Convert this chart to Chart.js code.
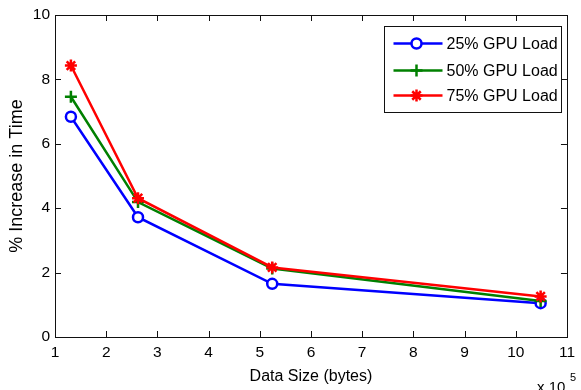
<!DOCTYPE html>
<html>
<head>
<meta charset="utf-8">
<title>% Increase in Time vs Data Size</title>
<script src="https://cdn.jsdelivr.net/npm/chart.js@4.4.0/dist/chart.umd.min.js"></script>
<style>
  html, body { margin: 0; padding: 0; background: #ffffff; }
  #wrap { position: relative; width: 581px; height: 390px; }
</style>
</head>
<body>
<div id="wrap"><canvas id="chart"></canvas></div>
<script>
// Data sizes in bytes (128 KB, 256 KB, 512 KB, 1 MB)
const dataSizes = [131072, 262144, 524288, 1048576];

// % increase in execution time for each GPU load level
const load25 = [6.84, 3.72, 1.65, 1.05];
const load50 = [7.46, 4.19, 2.13, 1.12];
const load75 = [8.43, 4.31, 2.16, 1.26];

const seriesLabels = ['25% GPU Load', '50% GPU Load', '75% GPU Load'];
const xTickValues = [1, 2, 3, 4, 5, 6, 7, 8, 9, 10, 11];   // in units of 10^5 bytes
const yTickValues = [0, 2, 4, 6, 8, 10];

const FONT = '"Liberation Sans", Arial, Helvetica, sans-serif';
const INK = '#111111';

function toPoints(values) {
  return dataSizes.map((x, i) => ({ x: x, y: values[i] }));
}

// Closed box with inward tick marks on all four sides
const boxAxes = {
  id: 'boxAxes',
  beforeDatasetsDraw(chart) {
    const { ctx, chartArea: a, scales } = chart;
    const tick = 6;
    ctx.save();
    ctx.strokeStyle = INK;
    ctx.lineWidth = 1;
    ctx.strokeRect(Math.round(a.left) + 0.5, Math.round(a.top) + 0.5,
                   Math.round(a.right - a.left), Math.round(a.bottom - a.top));
    ctx.beginPath();
    xTickValues.forEach(v => {
      const px = Math.round(scales.x.getPixelForValue(v * 1e5)) + 0.5;
      ctx.moveTo(px, a.bottom); ctx.lineTo(px, a.bottom - tick);
      ctx.moveTo(px, a.top); ctx.lineTo(px, a.top + tick);
    });
    yTickValues.forEach(v => {
      const py = Math.round(scales.y.getPixelForValue(v)) + 0.5;
      ctx.moveTo(a.left, py); ctx.lineTo(a.left + tick, py);
      ctx.moveTo(a.right, py); ctx.lineTo(a.right - tick, py);
    });
    ctx.stroke();
    ctx.restore();
  }
};

// Boxed legend in the upper right corner, plus the axis exponent label
const cornerLegend = {
  id: 'cornerLegend',
  afterDraw(chart) {
    const { ctx, chartArea: a } = chart;
    const w = 177, h = 86;
    const left = Math.round(a.right - 6 - w) + 0.5;
    const top = Math.round(a.top + 11) + 0.5;
    ctx.save();
    ctx.fillStyle = '#ffffff';
    ctx.fillRect(left, top, w, h);
    ctx.strokeStyle = INK;
    ctx.lineWidth = 1;
    ctx.strokeRect(left, top, w, h);

    const rows = [17, 44, 69];
    chart.data.datasets.forEach((ds, i) => {
      const y = top + rows[i];
      ctx.strokeStyle = ds.borderColor;
      ctx.lineWidth = ds.borderWidth;
      ctx.beginPath();
      ctx.moveTo(left + 9, y);
      ctx.lineTo(left + 58, y);
      ctx.stroke();
      Chart.helpers.drawPoint(ctx, {
        pointStyle: ds.pointStyle,
        radius: ds.pointRadius,
        rotation: 0,
        borderWidth: ds.pointBorderWidth
      }, left + 32, y);
      ctx.fillStyle = '#000000';
      ctx.font = '16px ' + FONT;
      ctx.textAlign = 'left';
      ctx.textBaseline = 'middle';
      ctx.fillText(ds.label, left + 62, y + 1);
    });

    // "x 10^5" multiplier under the right end of the x axis
    ctx.fillStyle = '#000000';
    ctx.textBaseline = 'alphabetic';
    ctx.textAlign = 'left';
    ctx.font = '15px ' + FONT;
    ctx.fillText('x 10', 537, 392);
    ctx.font = '11px ' + FONT;
    ctx.fillText('5', 570, 381);
    ctx.restore();
  }
};

// Draw point markers in the dataset colours (fill white for open circles)
function ds(label, values, color, style, radius, fill, order) {
  return {
    label: label,
    data: toPoints(values),
    borderColor: color,
    backgroundColor: fill,
    borderWidth: 2.5,
    pointStyle: style,
    pointRadius: radius,
    pointBorderWidth: 2.5,
    pointBorderColor: color,
    pointBackgroundColor: fill,
    showLine: true,
    tension: 0,
    order: order
  };
}

new Chart(document.getElementById('chart'), {
  type: 'scatter',
  data: {
    datasets: [
      ds(seriesLabels[0], load25, '#0000ff', 'circle', 5, '#ffffff', 2),
      ds(seriesLabels[1], load50, '#008000', 'cross', 6, '#008000', 1),
      ds(seriesLabels[2], load75, '#ff0000', 'star', 6, '#ff0000', 0)
    ]
  },
  options: {
    responsive: true,
    maintainAspectRatio: false,
    animation: false,
    events: [],
    layout: { padding: { left: 0, top: 15, right: 9, bottom: 0 } },
    plugins: {
      legend: { display: false },
      tooltip: { enabled: false }
    },
    scales: {
      x: {
        type: 'linear',
        min: 1e5,
        max: 11e5,
        afterFit(scale) { scale.height = 53; },
        afterBuildTicks(scale) { scale.ticks = xTickValues.map(v => ({ value: v * 1e5 })); },
        grid: { display: false, drawTicks: false },
        border: { display: false },
        ticks: {
          color: '#000000',
          font: { family: FONT, size: 15.5 },
          padding: 6,
          maxRotation: 0,
          autoSkip: false,
          callback: v => String(Math.round(v / 1e5))
        },
        title: {
          display: true,
          text: 'Data Size (bytes)',
          color: '#000000',
          font: { family: FONT, size: 16 },
          padding: { top: 0, bottom: 4 }
        }
      },
      y: {
        type: 'linear',
        min: 0,
        max: 10,
        afterFit(scale) { scale.width = 55; },
        afterBuildTicks(scale) { scale.ticks = yTickValues.map(v => ({ value: v })); },
        grid: { display: false, drawTicks: false },
        border: { display: false },
        ticks: {
          color: '#000000',
          font: { family: FONT, size: 15.5 },
          padding: 5,
          autoSkip: false
        },
        title: {
          display: true,
          text: '% Increase in Time',
          color: '#000000',
          font: { family: FONT, size: 18 },
          padding: { top: 6, bottom: 0 }
        }
      }
    }
  },
  plugins: [boxAxes, cornerLegend]
});
</script>
</body>
</html>
